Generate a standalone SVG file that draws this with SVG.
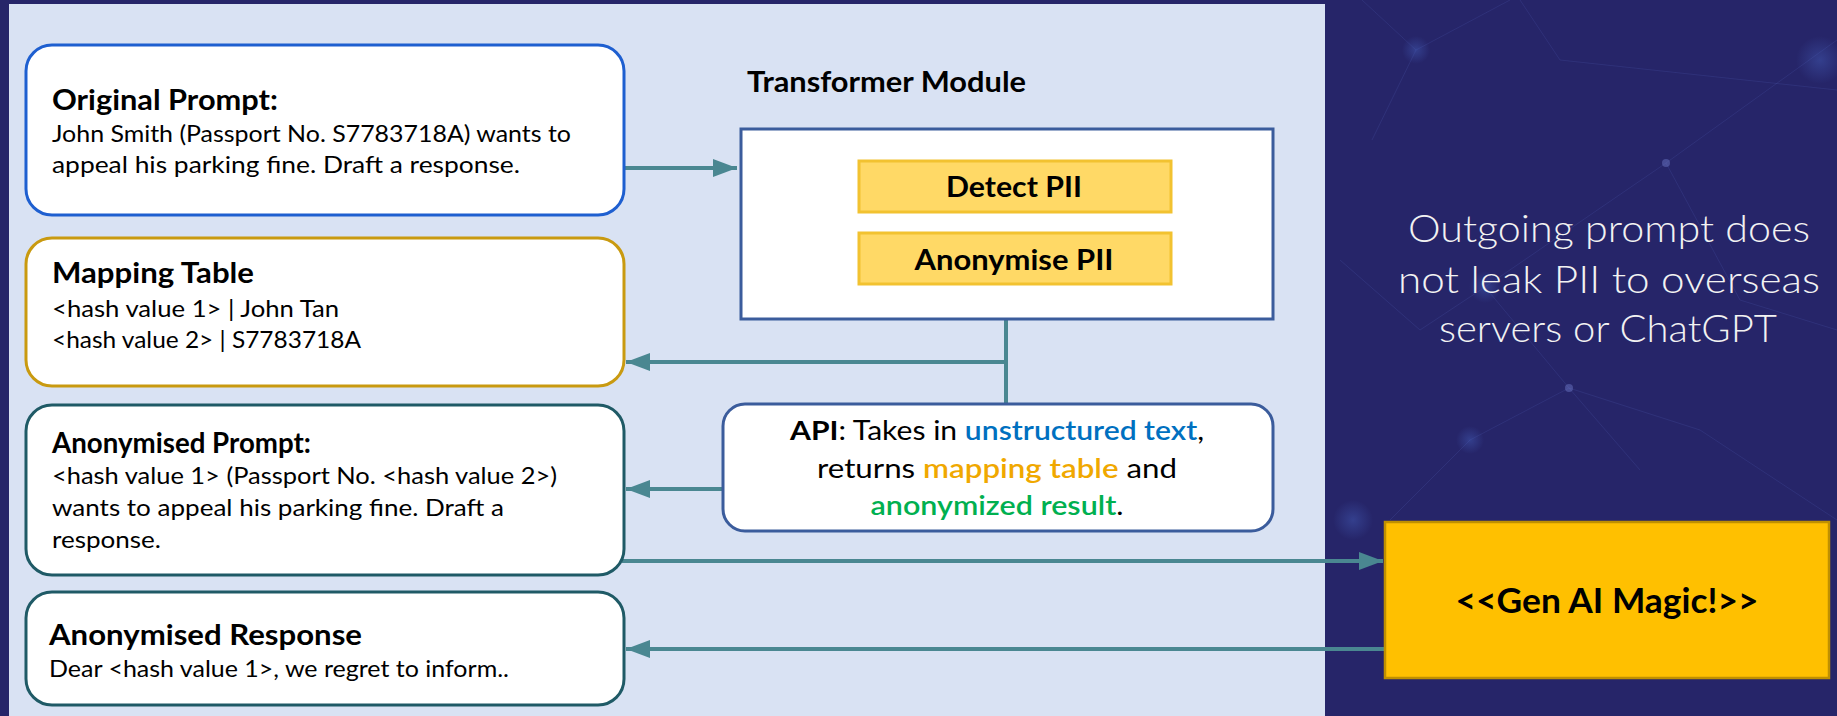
<svg xmlns="http://www.w3.org/2000/svg" width="1837" height="716" viewBox="0 0 1837 716" xml:space="preserve">
<style>
.t{font-family:Lato,"Open Sans","Liberation Sans",sans-serif;fill:#000}
.h{font-size:28px;font-weight:700}
.b{font-size:23px;font-weight:400}
.api{font-size:27px;font-weight:400}
.pii{font-size:28px;font-weight:700}
.card{fill:#fff;stroke-width:3}
.conn{fill:none;stroke:#4a8791;stroke-width:4}
.net{stroke:#5a6cc0;stroke-width:1;opacity:.18;fill:none}
.note{font-size:38px;font-weight:300;fill:#f2f2f2}
</style>
<defs>
<marker id="arrow" markerUnits="userSpaceOnUse" markerWidth="26" markerHeight="20" refX="24" refY="9" orient="auto">
<path d="M0,0 L24,9 L0,18 Z" fill="#4a8791"/>
</marker>
<radialGradient id="glow">
<stop offset="0" stop-color="#4d6fd0" stop-opacity=".35"/>
<stop offset="1" stop-color="#4d6fd0" stop-opacity="0"/>
</radialGradient>
</defs>

<!-- dark backdrop with a faint network pattern -->
<rect x="0" y="0" width="1837" height="716" fill="#262569"/>
<g id="backdrop">
<path class="net" d="M1362,0 L1416,50 L1372,140 M1416,50 L1510,0 M1666,163 L1485,287 L1420,330 M1666,163 L1837,40 M1666,163 L1740,300 L1837,330 M1485,287 L1569,388 L1640,470 M1569,388 L1470,440 L1390,520 M1520,0 L1560,60 L1837,90 M1569,388 L1700,430 L1837,520 M1340,260 L1420,330"/>
<circle cx="1416" cy="50" r="14" fill="url(#glow)"/>
<circle cx="1666" cy="163" r="4" fill="#7a86d8" opacity=".4"/>
<circle cx="1569" cy="388" r="4" fill="#7a86d8" opacity=".4"/>
<circle cx="1820" cy="60" r="24" fill="url(#glow)"/>
<circle cx="1485" cy="287" r="16" fill="url(#glow)"/>
<circle cx="1470" cy="440" r="14" fill="url(#glow)"/>
<circle cx="1353" cy="520" r="20" fill="url(#glow)"/>
</g>

<!-- light work area -->
<rect x="9" y="4" width="1316" height="712" fill="#d9e2f3"/>

<!-- connectors -->
<g id="connectors">
<path class="conn" d="M624,168 H737" marker-end="url(#arrow)"/>
<path class="conn" d="M1006,319 V403"/>
<path class="conn" d="M1006,362 H626" marker-end="url(#arrow)"/>
<path class="conn" d="M722,489 H626" marker-end="url(#arrow)"/>
<path class="conn" d="M622,561 H1383" marker-end="url(#arrow)"/>
<path class="conn" d="M1386,649 H626" marker-end="url(#arrow)"/>
</g>

<g id="original-prompt">
<rect class="card" x="26" y="45" width="598" height="170" rx="26" stroke="#1e5fd0"/>
<text class="t h" x="52" y="110" textLength="226" lengthAdjust="spacingAndGlyphs">Original  Prompt:</text>
<text class="t b" x="52" y="142" textLength="519" lengthAdjust="spacingAndGlyphs">John Smith (Passport  No. S7783718A) wants to</text>
<text class="t b" x="52" y="173" textLength="468" lengthAdjust="spacingAndGlyphs">appeal his parking fine.  Draft a response.</text>
</g>

<g id="mapping-table">
<rect class="card" x="26" y="238" width="598" height="148" rx="26" stroke="#c99a10"/>
<text class="t h" x="52" y="283" textLength="202" lengthAdjust="spacingAndGlyphs">Mapping Table</text>
<text class="t b" x="52" y="317" textLength="287" lengthAdjust="spacingAndGlyphs">&lt;hash value 1&gt;  | John Tan</text>
<text class="t b" x="52" y="348" textLength="309" lengthAdjust="spacingAndGlyphs">&lt;hash value 2&gt;  | S7783718A</text>
</g>

<g id="anonymised-prompt">
<rect class="card" x="26" y="405" width="598" height="170" rx="26" stroke="#1f5a66"/>
<text class="t h" x="52" y="453" textLength="259" lengthAdjust="spacingAndGlyphs">Anonymised  Prompt:</text>
<text class="t b" x="52" y="484" textLength="505" lengthAdjust="spacingAndGlyphs">&lt;hash value 1&gt; (Passport  No. &lt;hash value 2&gt;)</text>
<text class="t b" x="52" y="516" textLength="452" lengthAdjust="spacingAndGlyphs">wants to appeal his parking fine.  Draft a</text>
<text class="t b" x="52" y="548" textLength="109" lengthAdjust="spacingAndGlyphs">response.</text>
</g>

<g id="anonymised-response">
<rect class="card" x="26" y="592" width="598" height="113" rx="26" stroke="#1f5a66"/>
<text class="t h" x="49" y="645" textLength="313" lengthAdjust="spacingAndGlyphs">Anonymised  Response</text>
<text class="t b" x="49" y="677" textLength="460" lengthAdjust="spacingAndGlyphs">Dear &lt;hash value 1&gt;, we regret to inform..</text>
</g>

<g id="transformer-module">
<text class="t h" x="747" y="92" textLength="279" lengthAdjust="spacingAndGlyphs">Transformer  Module</text>
<rect x="741" y="129" width="532" height="190" fill="#fff" stroke="#3b5c9c" stroke-width="3"/>
<g id="detect-pii">
<rect x="859" y="161" width="312" height="51" fill="#ffd966" stroke="#f2c230" stroke-width="3"/>
<text class="t pii" x="1014" y="197" text-anchor="middle" textLength="136" lengthAdjust="spacingAndGlyphs">Detect  PII</text>
</g>
<g id="anonymise-pii">
<rect x="859" y="233" width="312" height="51" fill="#ffd966" stroke="#f2c230" stroke-width="3"/>
<text class="t pii" x="1014" y="270" text-anchor="middle" textLength="199" lengthAdjust="spacingAndGlyphs">Anonymise  PII</text>
</g>
</g>

<g id="api">
<rect x="723" y="404" width="550" height="127" rx="22" fill="#fff" stroke="#3b5c9c" stroke-width="3"/>
<text class="t api" x="997" y="440" text-anchor="middle" textLength="414" lengthAdjust="spacingAndGlyphs"><tspan font-weight="700">API</tspan>: Takes in <tspan fill="#0070c0" font-weight="600">unstructured text</tspan>,</text>
<text class="t api" x="997" y="478" text-anchor="middle" textLength="360" lengthAdjust="spacingAndGlyphs">returns <tspan fill="#f0a800" font-weight="600">mapping table</tspan> and</text>
<text class="t api" x="997" y="515" text-anchor="middle" textLength="253" lengthAdjust="spacingAndGlyphs"><tspan fill="#00b050" font-weight="600">anonymized result</tspan>.</text>
</g>

<g id="gen-ai">
<rect x="1385" y="522" width="444" height="156" fill="#ffc000" stroke="#bf9000" stroke-width="2.5"/>
<text class="t" x="1607" y="613" text-anchor="middle" font-size="34" font-weight="700" textLength="303" lengthAdjust="spacingAndGlyphs">&lt;&lt;Gen AI  Magic!&gt;&gt;</text>
</g>

<g id="note">
<text class="t note" x="1609" y="242" text-anchor="middle" textLength="402" lengthAdjust="spacingAndGlyphs">Outgoing prompt does</text>
<text class="t note" x="1609" y="293" text-anchor="middle" textLength="422" lengthAdjust="spacingAndGlyphs">not leak  PII to overseas</text>
<text class="t note" x="1608" y="342" text-anchor="middle" textLength="338" lengthAdjust="spacingAndGlyphs">servers or ChatGPT</text>
</g>
</svg>
